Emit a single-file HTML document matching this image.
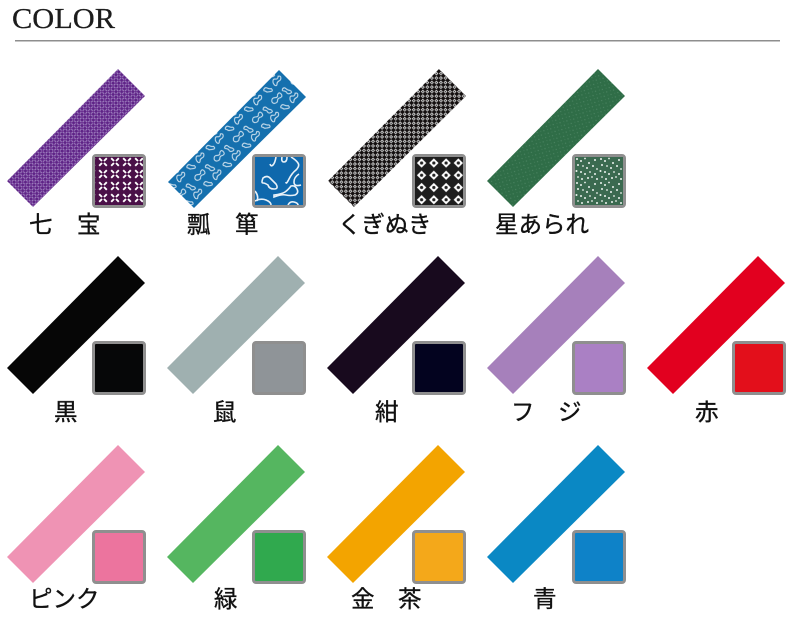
<!DOCTYPE html>
<html><head><meta charset="utf-8"><style>
html,body{margin:0;padding:0;background:#fff;width:800px;height:620px;overflow:hidden}
svg{display:block}
.l{font-family:"Liberation Sans","Noto Sans CJK JP",sans-serif;font-size:23.500px;fill:#111;stroke:#111;stroke-width:.35}
</style></head><body>
<svg width="800" height="620" viewBox="0 0 800 620" xmlns="http://www.w3.org/2000/svg">
<defs>
<pattern id="p1" width="4" height="4" patternUnits="userSpaceOnUse" patternTransform="rotate(45 0 0)">
<rect width="4" height="4" fill="#a285c2"/><circle cx="2" cy="2" r="1.500" fill="#5e2386"/><circle cx="0" cy="0" r="1.150" fill="#6a2f90"/><circle cx="4" cy="4" r="1.150" fill="#6a2f90"/><circle cx="4" cy="0" r="1.150" fill="#6a2f90"/><circle cx="0" cy="4" r="1.150" fill="#6a2f90"/>
</pattern>
<pattern id="p1s" x="91" y="150" width="12" height="12" patternUnits="userSpaceOnUse">
<rect width="12" height="12" fill="#4a1048"/>
<g stroke="#fff" stroke-width="1.900" fill="none"><path d="M1 1L3.800 3.800M11 1L8.200 3.800M1 11L3.800 8.200M11 11L8.200 8.200"/></g>
</pattern>
<pattern id="p2" width="34" height="30" patternUnits="userSpaceOnUse" patternTransform="rotate(-45 0 0) scale(.8)">
<rect width="34" height="30" fill="#1570ae"/>
<g fill="none" stroke="#cfe1ee" stroke-width="1.300"><path d="M2 6q3-4 6-1t5 0q4-2 4 2t-4 3q-3-2-5 0t-5 0q-2-2-1-4z"/><path d="M20 20q3-4 5-1t5 0q3 2 1 4t-4 1q-3-1-5 1t-3-1q0-2 1-4z"/><path d="M23 4q3 0 3 3t2 5q1 4-2 3t-3-3q1-3-1-5t1-3z"/><path d="M6 18q3-1 4 2t3 4q0 4-3 2t-4-3q0-2-1-3t1-2z"/></g>
</pattern>
<pattern id="p3" width="6.400" height="6.400" patternUnits="userSpaceOnUse" patternTransform="rotate(45 0 0)">
<rect width="6.400" height="6.400" fill="#141010"/><rect x="3.400" y=".2" width="2.800" height="2.800" fill="#e4e4e4"/><rect x=".2" y="3.400" width="2.800" height="2.800" fill="#e4e4e4"/><circle cx="4.800" cy="1.600" r=".8" fill="#3a3a3a"/><circle cx="1.600" cy="4.800" r=".8" fill="#3a3a3a"/>
</pattern>
<pattern id="p3s" x="95" y="157" width="12.250" height="12.250" patternUnits="userSpaceOnUse">
<rect width="12.250" height="12.250" fill="#1e1e1e"/><path d="M6.600 1.300L11.300 6L6.600 10.700L1.900 6z" fill="#fff"/><circle cx="6.600" cy="6" r="1.600" fill="#222"/>
</pattern>
<pattern id="p4" width="5" height="5" patternUnits="userSpaceOnUse" patternTransform="rotate(30 0 0)">
<rect width="5" height="5" fill="#2f6d47"/><circle cx="1.200" cy="1.500" r=".6" fill="#4f8765"/><circle cx="3.800" cy="3.600" r=".5" fill="#477f5d"/>
</pattern>
<pattern id="p4s" x="95" y="157" width="24" height="24" patternUnits="userSpaceOnUse">
<rect width="24" height="24" fill="#3b6a50"/>
<g fill="#eef4f0"><circle cx="2" cy="2" r="1"/><circle cx="6" cy="4" r="1"/><circle cx="10" cy="1.500" r=".9"/><circle cx="14" cy="6" r="1"/><circle cx="20" cy="3" r="1"/><circle cx="3" cy="8" r="1"/><circle cx="8" cy="9" r=".9"/><circle cx="12" cy="11" r="1"/><circle cx="18" cy="9" r="1"/><circle cx="22" cy="12" r=".9"/><circle cx="1.500" cy="14" r="1"/><circle cx="6" cy="15" r="1"/><circle cx="10" cy="17" r="1"/><circle cx="15" cy="15" r=".9"/><circle cx="20" cy="17" r="1"/><circle cx="3" cy="20" r=".9"/><circle cx="7" cy="22" r="1"/><circle cx="13" cy="21" r="1"/><circle cx="17" cy="20" r=".9"/><circle cx="22" cy="22" r="1"/></g>
</pattern>
<pattern id="p2s" x="95" y="157" width="48" height="48" patternUnits="userSpaceOnUse">
<rect width="48" height="48" fill="#0f68ac"/>
<g fill="none" stroke="#e8f1f8" stroke-width="1.600">
<path d="M8 21q4-3 7 0t6 6q3 5-2 5t-6-4q-3-2-5-2t0-5z"/>
<path d="M21 0q-1 6-3 8t-3-1"/>
<path d="M27 0q-1 5 2 5t3-5"/>
<path d="M36 0q5 3 7 6t-2 7q-4 3-7 9t-3 3"/>
<path d="M44 17q-5 3-5 8t7 3"/>
<path d="M19 38q8-1 11-3t6-6q4-1 6 3t-2 6q-5 1-9 0t-12 2z"/>
<path d="M0 34q4 5 2 10"/>
<path d="M0 44q6-3 11-1t5 5"/>
<path d="M33 48q2-4 6-3t4 3"/>
</g>
</pattern>
<g id="b"><polygon points="118,0 145,27 33,138 7,112"/></g>
<g id="q"><rect x="93.500" y="1.500" width="51" height="51" rx="2.500" stroke="#8f8f8f" stroke-width="3"/></g>
</defs>

<text x="12" y="28" font-family="'Liberation Serif',serif" font-size="28.500" fill="#1c1c1c" stroke="#1c1c1c" stroke-width=".25" textLength="103" lengthAdjust="spacingAndGlyphs">COLOR</text>
<rect x="15" y="40" width="765" height="1.500" fill="#8e8e8e"/>

<!-- row 1 -->
<use href="#b" y="69" fill="url(#p1)"/>
<use href="#b" x="161" y="70" fill="url(#p2)"/>
<use href="#b" x="321" y="69" fill="url(#p3)"/>
<use href="#b" x="480" y="69" fill="url(#p4)"/>

<rect x="93.500" y="155.500" width="51" height="51" rx="2.500" fill="#4a1048" stroke="#8f8f8f" stroke-width="3"/>
<rect x="95" y="157" width="48" height="48" fill="url(#p1s)"/>

<rect x="253.500" y="155.500" width="51" height="51" rx="2.500" fill="#0f68ac" stroke="#8f8f8f" stroke-width="3"/>
<g transform="translate(160 0)"><rect x="95" y="157" width="48" height="48" fill="url(#p2s)"/></g>

<rect x="413.500" y="155.500" width="51" height="51" rx="2.500" fill="#1e1e1e" stroke="#8f8f8f" stroke-width="3"/>
<g transform="translate(320 0)"><rect x="95" y="157" width="48" height="48" fill="url(#p3s)"/></g>

<rect x="573.500" y="155.500" width="51" height="51" rx="2.500" fill="#3b6a50" stroke="#8f8f8f" stroke-width="3"/>
<g transform="translate(480 0)"><rect x="95" y="157" width="48" height="48" fill="url(#p4s)"/></g>

<text class="l" x="29" y="232.500">七</text><text class="l" x="77" y="232.500">宝</text>
<text class="l" x="187" y="232.500">瓢</text><text class="l" x="235" y="232.500">箪</text>
<text class="l" x="338" y="232.500">くぎぬき</text>
<text class="l" x="495" y="232.500">星あられ</text>

<!-- row 2 -->
<use href="#b" y="256" fill="#060606"/>
<use href="#b" x="160" y="256" fill="#9fb0b0"/>
<use href="#b" x="320" y="256" fill="#180a1e"/>
<use href="#b" x="480" y="256" fill="#a680bb"/>
<use href="#b" x="640" y="256" fill="#e2001f"/>
<use href="#q" y="341" fill="#060708"/>
<use href="#q" x="160" y="341" fill="#8f9498"/>
<use href="#q" x="320" y="341" fill="#03031f"/>
<use href="#q" x="480" y="341" fill="#aa80c4"/>
<use href="#q" x="640" y="341" fill="#e30f1b"/>
<text class="l" x="54" y="420">黒</text>
<text class="l" x="213" y="420">鼠</text>
<text class="l" x="375" y="420">紺</text>
<text class="l" x="511" y="420">フ</text><text class="l" x="558" y="420">ジ</text>
<text class="l" x="695" y="420">赤</text>

<!-- row 3 -->
<use href="#b" y="445" fill="#ef93b4"/>
<use href="#b" x="160" y="445" fill="#55b660"/>
<use href="#b" x="320" y="445" fill="#f3a400"/>
<use href="#b" x="480" y="445" fill="#0a88c4"/>
<use href="#q" y="530" fill="#ec749e"/>
<use href="#q" x="160" y="530" fill="#30a94e"/>
<use href="#q" x="320" y="530" fill="#f4a81a"/>
<use href="#q" x="480" y="530" fill="#0e82c8"/>
<text class="l" x="29" y="607">ピンク</text>
<text class="l" x="214" y="607">緑</text>
<text class="l" x="351" y="607">金</text><text class="l" x="398" y="607">茶</text>
<text class="l" x="533" y="607">青</text>
</svg>
</body></html>
